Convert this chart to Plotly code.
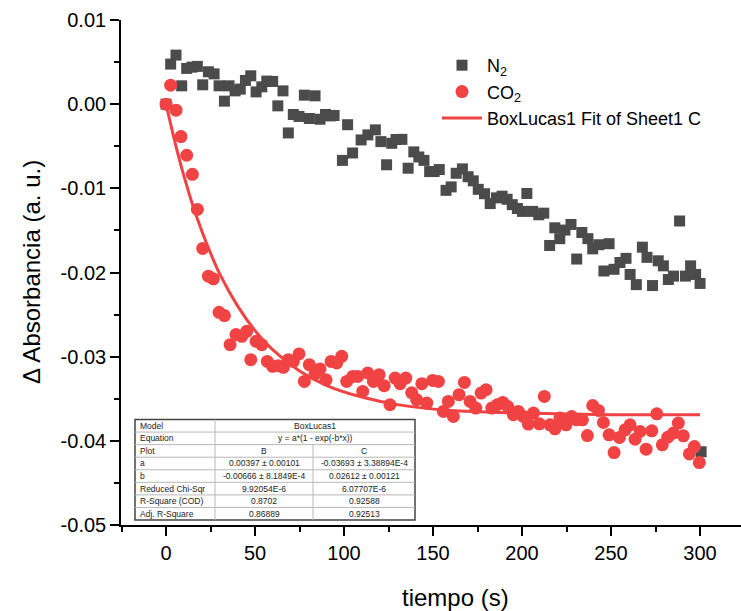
import plotly.graph_objects as go

# ---------------- data ----------------
n2_t = [0, 2.6, 5.6, 8.8, 11.6, 14.6, 17.6, 20.6, 23.8, 27.0, 29.8, 32.8, 35.4, 38.8, 41.7,
        44.6, 47.6, 50.6, 53.8, 56.6, 59.9, 62.8, 65.7, 68.7, 71.5, 74.7, 77.7, 80.5, 83.7,
        86.5, 89.6, 92.1, 94.4, 99.1, 102.0, 104.8, 109.6, 113.4, 117.6, 120.7, 123.9, 126.8,
        129.2, 132.5, 136.0, 139.2, 142.0, 144.9, 148.1, 150.6, 153.5, 157.3, 160.2, 163.0,
        166.5, 169.7, 172.6, 175.4, 178.9, 182.1, 185.6, 188.8, 191.6, 194.5, 197.4, 200.2,
        202.7, 206.0, 209.4, 212.2, 215.5, 218.4, 221.2, 224.1, 227.5, 230.7, 233.6, 237.0,
        239.7, 243.1, 246.0, 248.9, 251.7, 255.0, 258.4, 260.7, 264.2, 267.6, 270.2, 273.3,
        276.5, 279.4, 282.2, 285.1, 288.5, 291.8, 294.7, 297.5, 300.0, 300.6]
n2_y = [0.0000, 0.00476, 0.00583, 0.00218, 0.00425, 0.00440, 0.00449, 0.00230, 0.00385,
        0.00360, 0.00218, 0.00036, 0.00218, 0.00158, 0.00179, 0.00282, 0.00337, 0.00146,
        0.00206, 0.00274, 0.00270, -0.00020, 0.00158, -0.00342, -0.00123, -0.00146, 0.00107,
        -0.00170, 0.00099, -0.00179, -0.00123, -0.00140, -0.00135, -0.00668, -0.00244,
        -0.00580, -0.00425, -0.00365, -0.00305, -0.00445, -0.00720, -0.00465, -0.00420,
        -0.00418, -0.00761, -0.00567, -0.00627, -0.00668, -0.00801, -0.00800, -0.00777,
        -0.01024, -0.00983, -0.00821, -0.00769, -0.00862, -0.00911, -0.01012, -0.01064,
        -0.01181, -0.01113, -0.01093, -0.01130, -0.01194, -0.01240, -0.01274, -0.01061,
        -0.01274, -0.01314, -0.01295, -0.01679, -0.01469, -0.01598, -0.01496, -0.01429,
        -0.01840, -0.01525, -0.01598, -0.01719, -0.01670, -0.01982, -0.01658, -0.01962,
        -0.01881, -0.01832, -0.02023, -0.02144, -0.01699, -0.01820, -0.02155, -0.01861,
        -0.01921, -0.02083, -0.02043, -0.01388, -0.02043, -0.01921, -0.02023, -0.02130,
        -0.04130]

co2_t = [0, 2.6, 5.6, 8.4, 11.6, 14.8, 17.6, 20.6, 23.8, 26.6, 29.8, 32.8, 36.0, 39.3, 42.5,
         45.3, 47.6, 50.6, 53.8, 56.9, 59.9, 63.1, 65.9, 68.7, 71.5, 74.7, 77.7, 80.5, 83.7,
         86.5, 89.9, 92.7, 95.9, 98.7, 101.5, 104.9, 107.7, 110.5, 113.3, 116.5, 119.7, 122.5,
         125.8, 128.7, 131.5, 134.7, 138.0, 140.8, 143.7, 146.5, 149.8, 153.0, 155.8, 158.6,
         161.4, 164.6, 167.6, 170.8, 174.0, 177.0, 179.8, 183.0, 186.1, 189.2, 192.0, 195.1,
         197.9, 200.7, 203.5, 206.4, 209.7, 212.5, 215.7, 218.5, 221.3, 224.7, 227.9, 230.7,
         233.9, 236.7, 239.7, 242.9, 245.7, 248.9, 251.7, 254.7, 257.9, 260.7, 263.5, 266.3,
         269.7, 272.9, 275.7, 278.8, 281.9, 285.0, 287.8, 290.6, 294.0, 296.8, 299.6]
co2_y = [0.0000, 0.00226, -0.00071, -0.00385, -0.00607, -0.00833, -0.01250, -0.01714,
         -0.02044, -0.02075, -0.02473, -0.02512, -0.02857, -0.02738, -0.02758, -0.02699,
         -0.03036, -0.02818, -0.02857, -0.03056, -0.03115, -0.03107, -0.03127, -0.03036,
         -0.03056, -0.02968, -0.03294, -0.03095, -0.03206, -0.03146, -0.03274, -0.03056,
         -0.03075, -0.02996, -0.03294, -0.03235, -0.03235, -0.03413, -0.03194, -0.03294,
         -0.03214, -0.03345, -0.03571, -0.03254, -0.03321, -0.03254, -0.03429, -0.03512,
         -0.03321, -0.03551, -0.03282, -0.03294, -0.03651, -0.03532, -0.03710, -0.03452,
         -0.03306, -0.03532, -0.03611, -0.03433, -0.03393, -0.03611, -0.03571, -0.03544,
         -0.03592, -0.03690, -0.03651, -0.03710, -0.03801, -0.03670, -0.03798, -0.03472,
         -0.03810, -0.03857, -0.03730, -0.03810, -0.03711, -0.03750, -0.03750, -0.03937,
         -0.03580, -0.03639, -0.03782, -0.03929, -0.04139, -0.03960, -0.03869, -0.03810,
         -0.03980, -0.03889, -0.04099, -0.03881, -0.03679, -0.04048, -0.03956, -0.03908,
         -0.03789, -0.03940, -0.04155, -0.04068, -0.04258]

fit_t = [0, 5, 10, 15, 20, 25, 30, 40, 50, 60, 75, 90, 110, 130, 160, 200, 250, 300]
fit_y = [0.0, -0.0045, -0.0085, -0.0120, -0.0150, -0.0177, -0.0201, -0.0239, -0.0269,
         -0.0292, -0.0317, -0.0334, -0.0348, -0.0357, -0.0364, -0.0367, -0.0369, -0.0369]

series_names = ["N<sub>2</sub>", "CO<sub>2</sub>", "BoxLucas1 Fit of Sheet1 C"]

x_tickvals = [0, 50, 100, 150, 200, 250, 300]
y_tickvals = [-0.05, -0.04, -0.03, -0.02, -0.01, 0.0, 0.01]
y_ticktext = ["-0.05", "-0.04", "-0.03", "-0.02", "-0.01", "0.00", "0.01"]

table_labels = ["Model", "Equation", "Plot", "a", "b", "Reduced Chi-Sqr",
                "R-Square (COD)", "Adj. R-Square"]
table_merged = ["BoxLucas1", "y = a*(1 - exp(-b*x))"]
table_col_b = ["B", "0.00397 ± 0.00101", "-0.00666 ± 8.1849E-4", "9.92054E-6",
               "0.8702", "0.86889"]
table_col_c = ["C", "-0.03693 ± 3.38894E-4", "0.02612 ± 0.00121", "6.07707E-6",
               "0.92588", "0.92513"]

# ---------------- styles / layout ----------------
W, H = 741, 611
ML, MR, MT, MB = 121, 0, 20, 86
PW, PH = W - ML - MR, H - MT - MB
FONT = "Liberation Sans, Arial, sans-serif"
GRAY = "#4b4b4b"
RED = "#f14343"


def px(x):
    return (x - ML) / PW


def py(y):
    return (H - MB - y) / PH


fig = go.Figure()
fig.add_trace(go.Scatter(x=n2_t, y=n2_y, mode="markers", name=series_names[0],
                         marker=dict(symbol="square", size=11, color=GRAY)))
fig.add_trace(go.Scatter(x=co2_t, y=co2_y, mode="markers", name=series_names[1],
                         marker=dict(symbol="circle", size=13, color=RED)))
fig.add_trace(go.Scatter(x=fit_t, y=fit_y, mode="lines", name=series_names[2],
                         line=dict(color=RED, width=3, shape="spline", smoothing=0.8)))

axis_common = dict(showline=True, linecolor="black", linewidth=1.6, ticks="outside",
                   ticklen=9, tickwidth=1.6, tickcolor="black", showgrid=False,
                   zeroline=False, mirror=False,
                   tickfont=dict(family=FONT, size=20, color="black"))

fig.update_xaxes(range=[-25.3, 323], tickvals=x_tickvals,
                 minor=dict(ticks="outside", ticklen=5, tickwidth=1.6, tickcolor="black",
                            dtick=25, tick0=0),
                 **axis_common)
fig.update_yaxes(range=[-0.05, 0.01], tickvals=y_tickvals, ticktext=y_ticktext,
                 minor=dict(ticks="outside", ticklen=5, tickwidth=1.6, tickcolor="black",
                            dtick=0.005, tick0=0),
                 **axis_common)

shapes = []
annotations = []

# axis titles
annotations.append(dict(text="tiempo (s)", x=px(455), y=py(597), xref="paper", yref="paper",
                        showarrow=False, xanchor="center", yanchor="middle",
                        font=dict(family=FONT, size=24, color="black")))
annotations.append(dict(text="Δ Absorbancia (a. u.)", x=px(31), y=py(272), xref="paper",
                        yref="paper", showarrow=False, textangle=-90, xanchor="center",
                        yanchor="middle", font=dict(family=FONT, size=24, color="black")))

# fit-results table
T_L, T_R, T_T, T_B = 135, 415, 419.5, 520
C1, C2 = 215, 313
n_rows = len(table_labels)
rh = (T_B - T_T) / n_rows
shapes.append(dict(type="rect", xref="paper", yref="paper", x0=px(T_L), x1=px(T_R),
                   y0=py(T_B), y1=py(T_T), fillcolor="white",
                   line=dict(color="#444444", width=1.5), layer="above"))
for i in range(1, n_rows):
    yy = T_T + i * rh
    shapes.append(dict(type="line", xref="paper", yref="paper", x0=px(T_L), x1=px(T_R),
                       y0=py(yy), y1=py(yy), line=dict(color="#b8b8b8", width=1),
                       layer="above"))
shapes.append(dict(type="line", xref="paper", yref="paper", x0=px(C1), x1=px(C1),
                   y0=py(T_T), y1=py(T_B), line=dict(color="#b8b8b8", width=1), layer="above"))
shapes.append(dict(type="line", xref="paper", yref="paper", x0=px(C2), x1=px(C2),
                   y0=py(T_T + 2 * rh), y1=py(T_B), line=dict(color="#b8b8b8", width=1),
                   layer="above"))

tfont = dict(family=FONT, size=8.5, color="#222222")
for i, lab in enumerate(table_labels):
    yc = T_T + (i + 0.5) * rh
    annotations.append(dict(text=lab, x=px(T_L + 2.5), y=py(yc), xref="paper", yref="paper",
                            showarrow=False, xanchor="left", yanchor="middle", font=tfont))
    if i < 2:
        annotations.append(dict(text=table_merged[i], x=px((C1 + T_R) / 2), y=py(yc),
                                xref="paper", yref="paper", showarrow=False,
                                xanchor="center", yanchor="middle", font=tfont))
    else:
        annotations.append(dict(text=table_col_b[i - 2], x=px((C1 + C2) / 2), y=py(yc),
                                xref="paper", yref="paper", showarrow=False,
                                xanchor="center", yanchor="middle", font=tfont))
        annotations.append(dict(text=table_col_c[i - 2], x=px((C2 + T_R) / 2), y=py(yc),
                                xref="paper", yref="paper", showarrow=False,
                                xanchor="center", yanchor="middle", font=tfont))

fig.update_layout(
    width=W, height=H,
    margin=dict(l=ML, r=MR, t=MT, b=MB, pad=0),
    paper_bgcolor="white", plot_bgcolor="white",
    showlegend=True,
    legend=dict(x=px(437), y=py(47), xanchor="left", yanchor="top",
                bgcolor="rgba(0,0,0,0)", borderwidth=0,
                font=dict(family=FONT, size=18, color="black"),
                itemwidth=40, tracegroupgap=0),
    shapes=shapes, annotations=annotations,
)

fig.write_html("out.html")
